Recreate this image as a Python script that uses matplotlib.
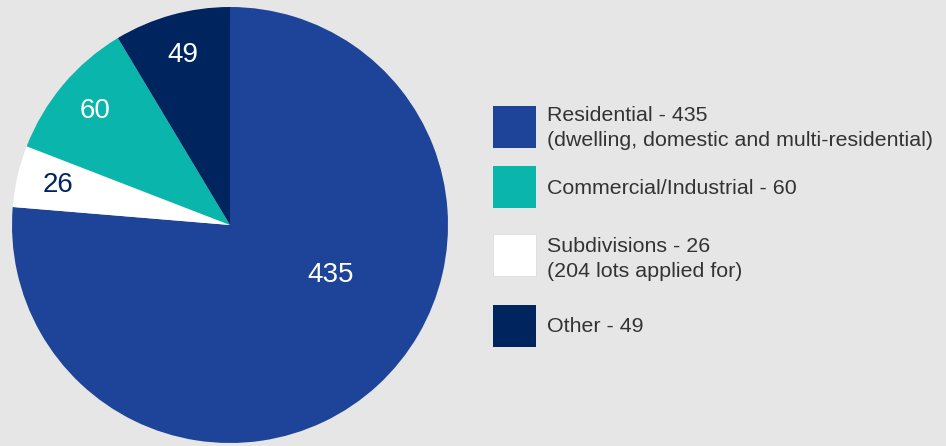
import numpy as np
import matplotlib.pyplot as plt
from matplotlib.patches import Rectangle

plt.rcParams['font.family'] = ['Liberation Sans', 'DejaVu Sans']

# clockwise from 12 o'clock
categories = ["Residential", "Subdivisions", "Commercial/Industrial", "Other"]
values = [435, 26, 60, 49]
colors = ["#1e4499", "#ffffff", "#0ab5ab", "#00245d"]
value_colors = ["white", "#00245d", "white", "white"]

legend_order = [0, 2, 1, 3]
legend_labels = [
    "Residential - 435\n(dwelling, domestic and multi-residential)",
    "Commercial/Industrial - 60",
    "Subdivisions - 26\n(204 lots applied for)",
    "Other - 49",
]

BG = "#e6e6e6"
W, H = 946, 446
fig = plt.figure(figsize=(W / 100, H / 100), dpi=100, facecolor=BG)

# pie
ax = fig.add_axes([12 / W, 3 / H, 436 / W, 436 / H])
ax.set_facecolor(BG)
wedges, _ = ax.pie(values, colors=colors, startangle=90, counterclock=False,
                   radius=1, wedgeprops=dict(linewidth=0))
ax.set_xlim(-1, 1)
ax.set_ylim(-1, 1)
ax.set_aspect("equal")
ax.axis("off")

for i, w in enumerate(wedges):
    mid = np.deg2rad((w.theta1 + w.theta2) / 2)
    if i == 0:
        x, y = 0.46, -0.23
    else:
        x, y = 0.81 * np.cos(mid), 0.81 * np.sin(mid)
    ax.text(x, y, str(values[i]), ha="center", va="center",
            fontsize=20, color=value_colors[i])

# legend, laid out in pixel units
lg = fig.add_axes([0, 0, 1, 1], facecolor="none")
lg.set_xlim(0, W)
lg.set_ylim(H, 0)
lg.axis("off")

box_top = [106, 166, 234, 305]
text_y = [128, 189, 259, 327]
for k, i in enumerate(legend_order):
    lg.add_patch(Rectangle((493, box_top[k]), 43, 42, facecolor=colors[i],
                           edgecolor="#dddddd" if colors[i] == "#ffffff" else "none",
                           linewidth=0.6))
    lg.text(547, text_y[k], legend_labels[k], ha="left", va="center",
            fontsize=15.4, color="#333333", linespacing=1.45)

fig.savefig("out.png", dpi=100, facecolor=BG)
